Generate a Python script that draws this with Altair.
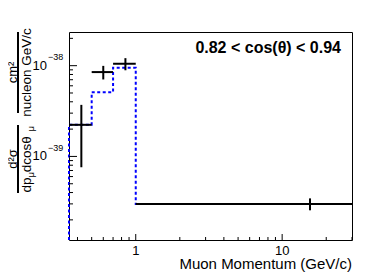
import altair as alt
import pandas as pd

# ---- data ----
bin_low = [0.35, 0.5, 0.7, 1.0]
bin_high = [0.5, 0.7, 1.0, 30.0]
bin_center = [0.425, 0.6, 0.85, 15.5]
data_xsec = [2.23e-39, 8.5e-39, 1.05e-38, 3.0e-40]
data_err = [1.47e-39, 1.45e-39, 1.6e-39, 0.45e-40]
mc_xsec = [2.23e-39, 5.1e-39, 9.5e-39, 3.0e-40]

x_min, x_max = 0.35, 30.0
y_min, y_max = 1.2e-40, 2.35e-38

x_major = [1.0, 10.0]
x_major_labels = ["1", "10"]
x_minor = [0.4, 0.5, 0.6, 0.7, 0.8, 0.9, 2, 3, 4, 5, 6, 7, 8, 9, 20, 30]
y_major = [1e-39, 1e-38]
y_major_exp = ["\u221239", "\u221238"]
y_minor = [2e-40, 3e-40, 4e-40, 5e-40, 6e-40, 7e-40, 8e-40, 9e-40,
           2e-39, 3e-39, 4e-39, 5e-39, 6e-39, 7e-39, 8e-39, 9e-39, 2e-38]

W, H = 283, 208
FONT = "Liberation Sans"

xs = alt.Scale(type="log", domain=[x_min, x_max], nice=False)
ys = alt.Scale(type="log", domain=[y_min, y_max], nice=False)

data_df = pd.DataFrame({
    "lo": bin_low, "hi": bin_high, "c": bin_center, "v": data_xsec,
    "elo": [v - e for v, e in zip(data_xsec, data_err)],
    "ehi": [v + e for v, e in zip(data_xsec, data_err)],
})

step_x = [bin_low[0]] + bin_low + [bin_high[-1]]
step_y = [y_min] + mc_xsec + [mc_xsec[-1]]
mc_df = pd.DataFrame({"x": step_x, "y": step_y, "i": list(range(len(step_x)))})

X = lambda f: alt.X(f, type="quantitative", scale=xs, axis=None)
Y = lambda f: alt.Y(f, type="quantitative", scale=ys, axis=None)

mc = alt.Chart(mc_df).mark_line(
    interpolate="step-after", color="#0000ff", strokeWidth=2, strokeDash=[3, 2.5]
).encode(x=X("x"), y=Y("y"), order="i:Q")

hbar = alt.Chart(data_df).mark_rule(color="black", strokeWidth=2).encode(
    x=X("lo"), x2="hi", y=Y("v"))
vbar = alt.Chart(data_df).mark_rule(color="black", strokeWidth=2).encode(
    x=X("c"), y=Y("elo"), y2="ehi")

ymaj_df = pd.DataFrame({"v": y_major, "e": y_major_exp})
ymin_df = pd.DataFrame({"v": y_minor})
xmaj_df = pd.DataFrame({"v": x_major, "t": x_major_labels})
xmin_df = pd.DataFrame({"v": x_minor})

ytick_major = alt.Chart(ymaj_df).mark_rule(color="black").encode(
    y=Y("v"), x=alt.value(0), x2=alt.value(8))
ytick_minor = alt.Chart(ymin_df).mark_rule(color="black").encode(
    y=Y("v"), x=alt.value(0), x2=alt.value(4))
xtick_major = alt.Chart(xmaj_df).mark_rule(color="black").encode(
    x=X("v"), y=alt.value(H), y2=alt.value(H - 6))
xtick_minor = alt.Chart(xmin_df).mark_rule(color="black").encode(
    x=X("v"), y=alt.value(H), y2=alt.value(H - 3))

ylab10 = alt.Chart(ymaj_df).mark_text(
    font=FONT, fontSize=13, align="right", baseline="middle", color="black"
).encode(y=Y("v"), x=alt.value(-22), text=alt.value("10"))
ylabexp = alt.Chart(ymaj_df).mark_text(
    font=FONT, fontSize=9, align="left", baseline="middle", dy=-8.5, color="black"
).encode(y=Y("v"), x=alt.value(-21), text="e:N")
xlab = alt.Chart(xmaj_df).mark_text(
    font=FONT, fontSize=13, align="center", baseline="middle", color="black"
).encode(x=X("v"), y=alt.value(H + 10.5), text="t:N")

base = alt.Chart(pd.DataFrame({"a": [0]}))

def txt(s, x, y, size=13, align="center", baseline="middle", angle=0, weight="normal"):
    kw = dict(font=FONT, fontSize=size, align=align, baseline=baseline,
              fontWeight=weight, color="black")
    if angle:
        kw["angle"] = angle
    return base.mark_text(**kw).encode(x=alt.value(x), y=alt.value(y), text=alt.value(s))

def rule(x, y, y2, w=2):
    return base.mark_rule(color="black", strokeWidth=w).encode(
        x=alt.value(x), y=alt.value(y), y2=alt.value(y2))

title = txt("0.82 < cos(\u03b8) < 0.94", 272, 16, size=16, align="right", weight="bold")
xtitle = txt("Muon Momentum (GeV/c)", W, 231.5, size=15, align="right")

# y-axis title: two stacked fractions, rotated
ytitle = [
    rule(-51, 0, 81),
    txt("cm\u00b2", -52, 40.5, angle=270, baseline="alphabetic"),
    txt("nucleon GeV/c", -38.5, 40.5, size=13.5, angle=270, baseline="alphabetic"),
    rule(-51, 93, 161),
    txt("d\u00b2\u03c3", -52, 127, angle=270, baseline="alphabetic"),
    txt("dp", -38.5, 160.5, size=13.5, angle=270, align="left", baseline="alphabetic"),
    txt("\u03bc", -35, 145.5, size=9.5, angle=270, align="left", baseline="alphabetic"),
    txt(" dcos\u03b8", -38.5, 140.2, size=13.5, angle=270, align="left", baseline="alphabetic"),
    txt("\u03bc", -35, 99.5, size=9.5, angle=270, align="left", baseline="alphabetic"),
]

chart = alt.layer(
    mc, hbar, vbar, ytick_major, ytick_minor, xtick_major, xtick_minor,
    ylab10, ylabexp, xlab, title, xtitle, *ytitle
).properties(
    width=W, height=H, autosize="none",
    padding={"left": 61, "top": 24, "right": 20, "bottom": 33},
    background="white",
).configure_view(stroke="black", strokeWidth=1)

chart.save("out.html", embed_options={"renderer": "svg", "actions": False})
